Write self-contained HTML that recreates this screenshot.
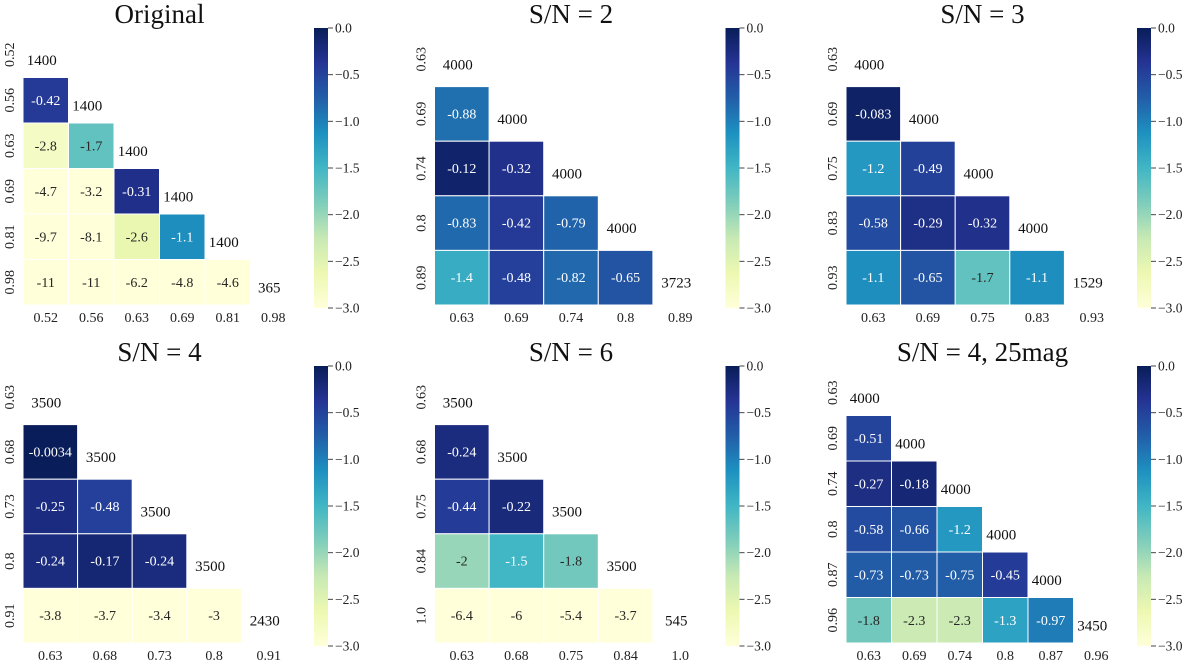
<!DOCTYPE html>
<html><head><meta charset="utf-8"><style>
html,body{margin:0;padding:0;background:#fff;}
svg{display:block;}
svg text{font-family:"Liberation Serif","Times New Roman","DejaVu Serif",serif;}
</style></head><body>
<svg id="fig" width="1200" height="663" viewBox="0 0 1200 663" xmlns="http://www.w3.org/2000/svg">
<defs><linearGradient id="cmap" x1="0" y1="1" x2="0" y2="0">
<stop offset="0" stop-color="#ffffd9"/><stop offset="0.125" stop-color="#edf8b1"/><stop offset="0.25" stop-color="#c7e9b4"/><stop offset="0.375" stop-color="#7fcdbb"/><stop offset="0.5" stop-color="#41b6c4"/><stop offset="0.625" stop-color="#1d91c0"/><stop offset="0.75" stop-color="#225ea8"/><stop offset="0.875" stop-color="#253494"/><stop offset="1" stop-color="#081d58"/>
</linearGradient></defs>
</svg>
<script>
// ---- data ----
const titles = ["Original","S/N = 2","S/N = 3","S/N = 4","S/N = 6","S/N = 4, 25mag"];
const labels0 = ["0.52","0.56","0.63","0.69","0.81","0.98"];
const values0 = [[-0.42],[-2.8,-1.7],[-4.7,-3.2,-0.31],[-9.7,-8.1,-2.6,-1.1],[-11,-11,-6.2,-4.8,-4.6]];
const diag0 = ["1400","1400","1400","1400","1400","365"];
const labels1 = ["0.63","0.69","0.74","0.8","0.89"];
const values1 = [[-0.88],[-0.12,-0.32],[-0.83,-0.42,-0.79],[-1.4,-0.48,-0.82,-0.65]];
const diag1 = ["4000","4000","4000","4000","3723"];
const labels2 = ["0.63","0.69","0.75","0.83","0.93"];
const values2 = [[-0.083],[-1.2,-0.49],[-0.58,-0.29,-0.32],[-1.1,-0.65,-1.7,-1.1]];
const diag2 = ["4000","4000","4000","4000","1529"];
const labels3 = ["0.63","0.68","0.73","0.8","0.91"];
const values3 = [[-0.0034],[-0.25,-0.48],[-0.24,-0.17,-0.24],[-3.8,-3.7,-3.4,-3]];
const diag3 = ["3500","3500","3500","3500","2430"];
const labels4 = ["0.63","0.68","0.75","0.84","1.0"];
const values4 = [[-0.24],[-0.44,-0.22],[-2,-1.5,-1.8],[-6.4,-6,-5.4,-3.7]];
const diag4 = ["3500","3500","3500","3500","545"];
const labels5 = ["0.63","0.69","0.74","0.8","0.87","0.96"];
const values5 = [[-0.51],[-0.27,-0.18],[-0.58,-0.66,-1.2],[-0.73,-0.73,-0.75,-0.45],[-1.8,-2.3,-2.3,-1.3,-0.97]];
const diag5 = ["4000","4000","4000","4000","4000","3450"];
const cbTicks = ["0.0","−0.5","−1.0","−1.5","−2.0","−2.5","−3.0"];
const cbTickVals = [0,-0.5,-1,-1.5,-2,-2.5,-3];
const vmin = -3, vmax = 0;

const panels = [
 {labels:labels0, values:values0, diag:diag0},
 {labels:labels1, values:values1, diag:diag1},
 {labels:labels2, values:values2, diag:diag2},
 {labels:labels3, values:values3, diag:diag3},
 {labels:labels4, values:values4, diag:diag4},
 {labels:labels5, values:values5, diag:diag5}
];
const stops = ["#ffffd9","#edf8b1","#c7e9b4","#7fcdbb","#41b6c4","#1d91c0","#225ea8","#253494","#081d58"].map(h=>[parseInt(h.slice(1,3),16),parseInt(h.slice(3,5),16),parseInt(h.slice(5,7),16)]);
function cmap(v){
  let t=(v-vmin)/(vmax-vmin); t=Math.max(0,Math.min(1,t));
  const p=t*(stops.length-1), i=Math.min(stops.length-2,Math.floor(p)), f=p-i;
  return stops[i].map((c,k)=>Math.round(c+(stops[i+1][k]-c)*f));
}
function lum(rgb){
  const l=rgb.map(c=>{c/=255;return c<=0.03928?c/12.92:Math.pow((c+0.055)/1.055,2.4);});
  return 0.2126*l[0]+0.7152*l[1]+0.0722*l[2];
}
const NS="http://www.w3.org/2000/svg";
const svg=document.getElementById('fig');
function mk(tag,attrs,parent,text){
  const e=document.createElementNS(NS,tag);
  for(const k in attrs) e.setAttribute(k,attrs[k]);
  if(text!==undefined){ e.textContent=text; e.setAttribute('font-family','Liberation Serif, Times New Roman, serif'); }
  parent.appendChild(e); return e;
}
const colX=[23,434.5,846], rowY=[32,370];
const GW=273, GH=273;
panels.forEach((p,pi)=>{
  const gx=colX[pi%3], gy=rowY[Math.floor(pi/3)];
  const n=p.labels.length, cw=GW/n, ch=GH/n;
  const xs=i=>gx+i*cw, ys=j=>gy+j*ch;
  const g=mk('g',{},svg);
  
  
  const t=mk('text',{x:gx+GW/2,y:gy-9,'text-anchor':'middle','font-size':27,fill:'#111'},g,titles[pi]);
  
  
  p.values.forEach((row,ri)=>{
    const j=ri+1;
    row.forEach((v,i)=>{
      const c=cmap(v);
      const r=mk('rect',{x:xs(i),y:ys(j),width:cw,height:ch,fill:`rgb(${c})`,stroke:'#fff','stroke-width':1},g);
      
      
      const tx=mk('text',{x:xs(i)+cw/2,y:ys(j)+ch/2+4.5,'text-anchor':'middle','font-size':14,fill:lum(c)>0.408?'#262626':'#ffffff'},g,String(v));
      
      
    });
  });
  p.diag.forEach((d,i)=>{
    const tx=mk('text',{x:xs(i)+cw/2-4,y:ys(i)+ch/2+10,'text-anchor':'middle','font-size':15,fill:'#111'},g,d);
    
    
  });
  p.labels.forEach((l,i)=>{
    const xl=mk('text',{x:xs(i)+cw/2,y:gy+GH+17,'text-anchor':'middle','font-size':14,fill:'#222'},g,l);
    
    
    const cy=ys(i)+ch/2;
    const yl=mk('text',{x:0,y:0,'text-anchor':'middle','font-size':14,fill:'#222',transform:`translate(${gx-9},${cy}) rotate(-90)`},g,l);
    
    
  });
  const cbx=gx+291, cby=gy-4, cbh=280, cbw=14;
  const cb=mk('rect',{x:cbx,y:cby,width:cbw,height:cbh,fill:'url(#cmap)'},g);
  
  
  cbTickVals.forEach((tv,k)=>{
    const yy=cby+(vmax-tv)/(vmax-vmin)*cbh;
    const tk=mk('line',{x1:cbx+cbw,x2:cbx+cbw+5,y1:yy,y2:yy,stroke:'#444','stroke-width':1},g);
    
    
    const tl=mk('text',{x:cbx+cbw+7,y:yy+4.5,'font-size':13.5,fill:'#222'},g,cbTicks[k]);
    
    
  });
});
</script>
</body></html>
